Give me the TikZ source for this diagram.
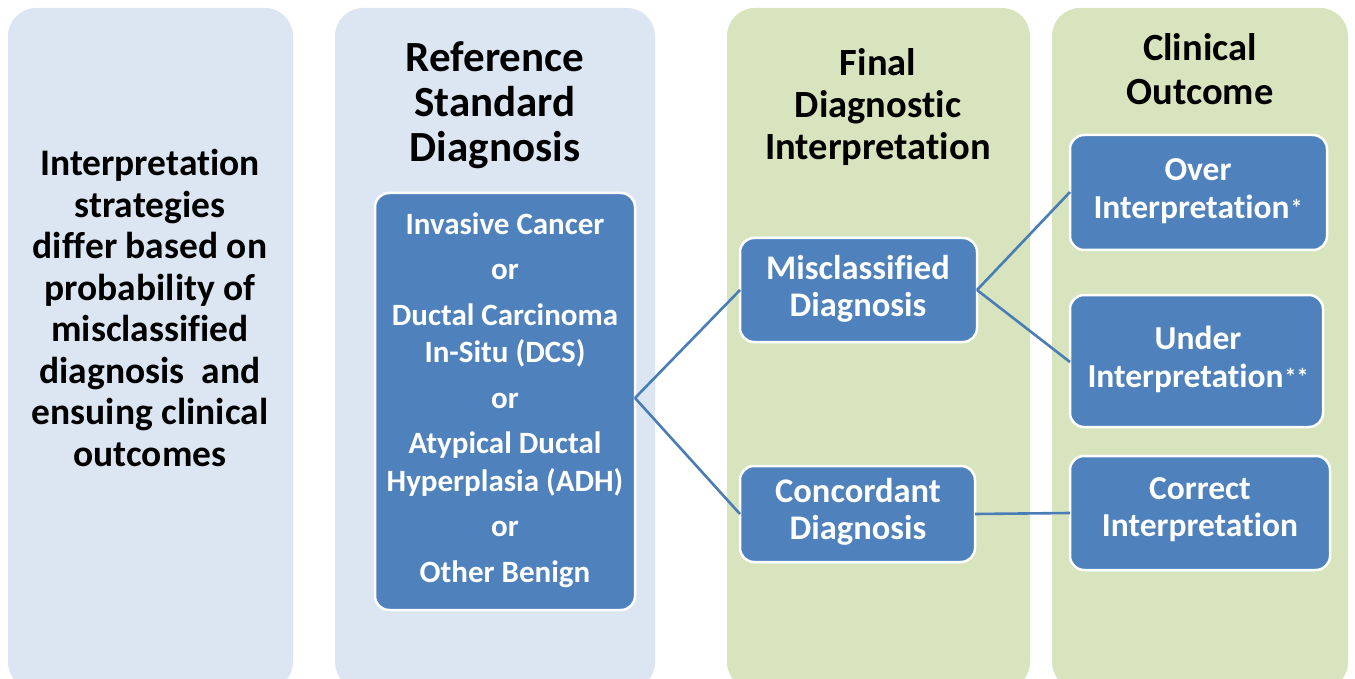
\documentclass[tikz,border=0pt]{standalone}
\usepackage{fontspec}
\setmainfont{Carlito}[Ligatures={NoCommon}]
\begin{document}
\definecolor{panelblue}{HTML}{DCE6F2}
\definecolor{panelgreen}{HTML}{D7E4BD}
\definecolor{boxblue}{HTML}{4F81BD}
\definecolor{linkblue}{HTML}{4A7CB6}
\tikzset{
  panel/.style={rounded corners=28pt, draw=none},
  bluebox/.style={rounded corners=14pt, fill=boxblue, draw=white, line width=2.5pt},
  boxtext/.style={text=white, font=\bfseries, align=center},
  headtext/.style={text=black, font=\bfseries, align=center},
  link/.style={draw=linkblue, line width=2.6pt}
}
% footnote marks after the outcome labels
\newcommand{\supstar}[1]{\kern1pt\raisebox{0.05em}{\fontsize{24}{24}\selectfont #1}}
\begin{tikzpicture}[x=1pt,y=-1pt]
  \useasboundingbox (0,0) rectangle (1355,679);
  \fill[white] (0,0) rectangle (1355,679);

  % column panels
  \fill[panel, fill=panelblue]  (8,8) rectangle (293,690);
  \fill[panel, fill=panelblue]  (335,8) rectangle (655,690);
  \fill[panel, fill=panelgreen] (727,8) rectangle (1030,690);
  \fill[panel, fill=panelgreen] (1052,8) rectangle (1348,690);
  \fill[white] (0,679) rectangle (1355,700);

  % column headings
  \node[headtext, font=\bfseries\fontsize{37.5}{41.5}\selectfont] (lefttext) at (150,308)
    {Interpretation\\strategies\\differ based on\\probability of\\misclassified\\diagnosis~ and\\ensuing clinical\\outcomes};
  \node[headtext, font=\bfseries\fontsize{43}{45}\selectfont] (refhead) at (495,105)
    {Reference\\Standard\\Diagnosis};
  \node[headtext, font=\bfseries\fontsize{38.5}{42}\selectfont] (finhead) at (878,107)
    {Final\\Diagnostic\\Interpretation};
  \node[headtext, font=\bfseries\fontsize{38.5}{44}\selectfont] (clinhead) at (1200,69)
    {Clinical\\Outcome};

  % blue boxes
  \draw[bluebox] (375,193) rectangle (635,610);
  \node[boxtext, font=\bfseries\fontsize{31}{45.5}\selectfont] (ref) at (505,400)
    {Invasive Cancer\\or\\Ductal Carcinoma\\[-8pt]In-Situ (DCS)\\or\\Atypical Ductal\\[-8pt]Hyperplasia (ADH)\\or\\Other Benign};
  \coordinate (refR) at (635,398);

  \draw[bluebox] (740,238) rectangle (977,342);
  \node[boxtext, font=\bfseries\fontsize{34.5}{37}\selectfont] (mis) at (858,289) {Misclassified\\Diagnosis};
  \coordinate (misL) at (740,290);
  \coordinate (misR) at (977,290);

  \draw[bluebox] (740,466) rectangle (975,562);
  \node[boxtext, font=\bfseries\fontsize{34.5}{37}\selectfont] (con) at (858,512) {Concordant\\Diagnosis};
  \coordinate (conL) at (740,514);
  \coordinate (conR) at (975,514);

  \draw[bluebox] (1070,135) rectangle (1327,250);
  \node[boxtext, font=\bfseries\fontsize{33.5}{38}\selectfont] (over) at (1198,191) {Over\\Interpretation\supstar{*}};
  \coordinate (overL) at (1070,192);

  \draw[bluebox] (1070,295) rectangle (1323,427);
  \node[boxtext, font=\bfseries\fontsize{33.5}{38}\selectfont] (under) at (1198,359) {Under\\Interpretation\supstar{**}};
  \coordinate (underL) at (1070,362);

  \draw[bluebox] (1070,456) rectangle (1330,570);
  \node[boxtext, font=\bfseries\fontsize{33.5}{37}\selectfont] (cor) at (1200,510) {Correct\\Interpretation};
  \coordinate (corL) at (1070,513);

  % connectors
  \draw[link] (refR) -- (misL);
  \draw[link] (refR) -- (conL);
  \draw[link] (misR) -- (overL);
  \draw[link] (misR) -- (underL);
  \draw[link] (conR) -- (corL);
\end{tikzpicture}
\end{document}
